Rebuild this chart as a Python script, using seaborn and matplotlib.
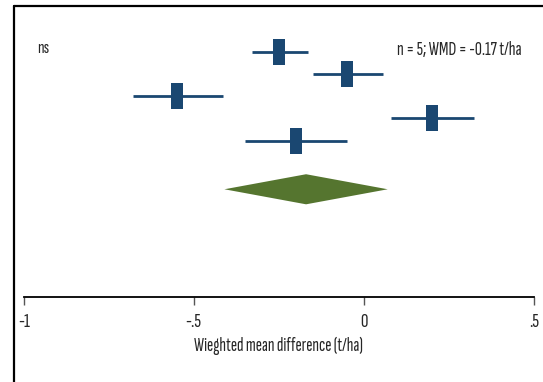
import matplotlib
matplotlib.use("Agg")
import matplotlib.pyplot as plt
from matplotlib.lines import Line2D
from matplotlib.path import Path
import seaborn as sns
import pandas as pd

# Study-level weighted mean differences (t/ha) with 95% CI
study_rows = [1, 2, 3, 4, 5]
effects = [-0.25, -0.05, -0.55, 0.20, -0.20]
ci_lower = [-0.33, -0.15, -0.68, 0.08, -0.35]
ci_upper = [-0.165, 0.055, -0.415, 0.325, -0.05]

# Pooled estimate
pooled_row = 7.2
pooled = -0.17
pooled_lower = -0.41
pooled_upper = 0.07

tick_values = [-1, -0.5, 0, 0.5]
tick_labels = ["-1", "-.5", "0", ".5"]
x_label = "Wieghted mean difference (t/ha)"
left_note = "ns"
right_note = "n = 5; WMD = -0.17 t/ha"

BLUE = "#1a4771"
GREEN = "#55752f"
FONT = ["Sofia Sans Extra Condensed", "DejaVu Sans"]

sns.set_theme(style="white")
plt.rcParams["font.family"] = FONT

W, H = 543, 382
fig = plt.figure(figsize=(W / 100, H / 100), dpi=100)
fig.patch.set_facecolor("white")

left_px, right_px, top_px, bottom_px = 23.7, 534.0, 30.0, 297.0
ax = fig.add_axes([left_px / W, 1 - bottom_px / H,
                   (right_px - left_px) / W, (bottom_px - top_px) / H])

df = pd.DataFrame({"row": study_rows, "effect": effects,
                   "lo": ci_lower, "hi": ci_upper})

# confidence interval whiskers
ax.hlines(df["row"], df["lo"], df["hi"], color=BLUE, lw=2.0, zorder=2)

# study weight boxes
box = Path([(-0.47, -1), (0.47, -1), (0.47, 1), (-0.47, 1), (-0.47, -1)],
           [Path.MOVETO, Path.LINETO, Path.LINETO, Path.LINETO, Path.CLOSEPOLY])
sns.scatterplot(data=df, x="effect", y="row", marker=box, s=350,
                color=BLUE, linewidth=0, ax=ax, zorder=3, legend=False)

# pooled diamond
half_h = 0.68
ax.fill([pooled_lower, pooled, pooled_upper, pooled, pooled_lower],
        [pooled_row, pooled_row - half_h, pooled_row, pooled_row + half_h, pooled_row],
        color=GREEN, lw=0, zorder=3)

ax.set_xlim(-1, 0.5)
ax.set_ylim(12.07, 0)
ax.set_xticks(tick_values)
ax.set_xticklabels(tick_labels)
ax.set_yticks([])
ax.set_xlabel(x_label, fontsize=13.8, labelpad=4)
ax.set_ylabel("")
for side in ["top", "left", "right"]:
    ax.spines[side].set_visible(False)
ax.spines["bottom"].set_color("black")
ax.spines["bottom"].set_linewidth(1.3)
ax.tick_params(axis="x", direction="out", length=5.8, width=1.0,
               color="#555555", labelsize=15, pad=6, bottom=True)
ax.set_facecolor("white")

fig.text(37 / W, 1 - 53 / H, left_note, fontsize=13.5, ha="left", va="baseline")
fig.text(397 / W, 1 - 55 / H, right_note, fontsize=14, ha="left", va="baseline")

# outer frame
fig.add_artist(Line2D([14 / W, 14 / W], [0, 1 - 6 / H], color="black", lw=1.6,
                      transform=fig.transFigure))
fig.add_artist(Line2D([14 / W, 1], [1 - 6 / H, 1 - 6 / H], color="black", lw=1.6,
                      transform=fig.transFigure))

fig.savefig("out.png", dpi=100, facecolor="white")
